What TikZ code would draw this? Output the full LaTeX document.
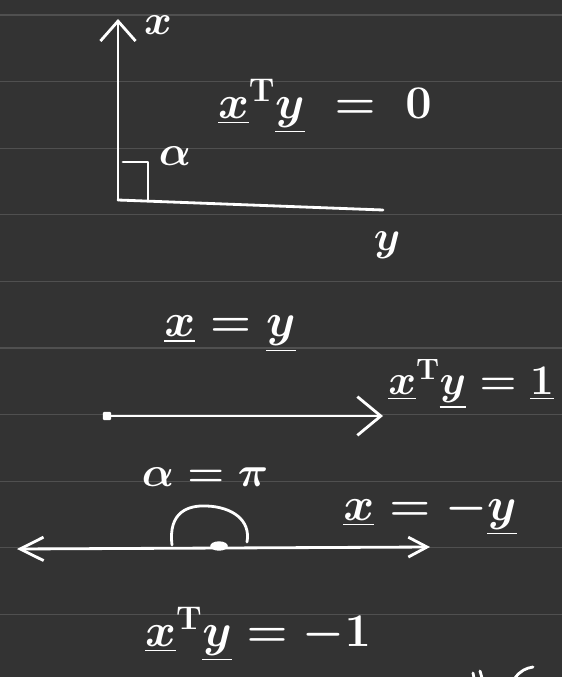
\documentclass[tikz,border=0pt]{standalone}
\usepackage{fix-cm}
\usepackage{amsmath}
\usepackage{xcolor}
\usepackage{tikz}
\usetikzlibrary{arrows.meta, shapes.geometric}
\definecolor{boardgray}{RGB}{51, 51, 51}
\definecolor{rulegray}{RGB}{80, 80, 80}
\newcommand{\uv}[1]{\underline{#1}}

\begin{document}
\begin{tikzpicture}[
    x=0.03cm, y=-0.03cm,
    chalk/.style={draw=white, line width=2.4pt, line cap=round, line join=round},
    ruling/.style={draw=rulegray, line width=1.1pt},
    ink/.style={text=white, font=\fontsize{40}{44}\selectfont\boldmath, inner sep=0pt},
    tag/.style={text=white, font=\fontsize{36}{40}\selectfont\boldmath, inner sep=0pt}
]

% Board and ruled lines
\useasboundingbox (0,0) rectangle (562,677);
\fill[boardgray] (0,0) rectangle (562,677);
\foreach \k in {0,...,9}
  \draw[ruling] (0,{15+66.6*\k}) -- (562,{15+66.6*\k});

% Orthogonal vectors
\coordinate (o)    at (118,200);
\coordinate (xtip) at (118,19);
\coordinate (yend) at (383,210);
\draw[chalk, -{Straight Barb[length=17pt, width=30pt]}] (o) -- (xtip);
\draw[chalk] (o) -- (yend);
\draw[chalk] ([shift={(5,-38)}]o) -| ([shift={(30,0)}]o);
\node[tag] (xlab)  at (158,25)  {$x$};
\node[tag] (alpha) at (175,156) {$\alpha$};
\node[tag] (ylab)  at (387,245) {$y$};
\node[ink] (dot0)  at (325,106) {$\uv{x}^{\mathrm{T}}\uv{y} \;=\; 0$};

% Parallel vectors
\node[ink] (same) at (230,334) {$\uv{x} = \uv{y}$};
\node[fill=white, rounded corners=1pt, minimum size=7pt, inner sep=0pt] (start) at (107,416) {};
\coordinate (tip) at (383,416);
\draw[chalk, -{Straight Barb[length=20pt, width=33pt]}] (start.center) -- (tip);
\node[tag, anchor=east] (dot1) at (554,384) {$\uv{x}^{\mathrm{T}}\uv{y} = \uv{1}$};

% Opposite vectors
\node[tag] (angle) at (205,477) {$\alpha = \pi$};
\node[ellipse, fill=white, minimum width=15pt, minimum height=8pt, inner sep=0pt] (mid) at (219,546) {};
\coordinate (left)  at (17,549);
\coordinate (right) at (430,547);
\draw[chalk, {Straight Barb[length=20pt, width=20pt]}-{Straight Barb[length=16pt, width=17pt]}] (left) -- (right);
\draw[chalk] (172,545) .. controls (168,512) and (188,505) .. (207,506)
             .. controls (232,507) and (251,520) .. (247,542);
\node[ink] (opp)  at (430,513) {$\uv{x} = -\uv{y}$};
\node[ink] (dotm) at (258,634) {$\uv{x}^{\mathrm{T}}\uv{y} = -1$};

% Cut-off strokes at the bottom edge
\draw[chalk] (473,673) -- (474,678);
\draw[chalk] (480,671) -- (482,678);
\draw[chalk] (515,678) .. controls (520,671) and (526,668) .. (533,667);

\end{tikzpicture}
\end{document}
